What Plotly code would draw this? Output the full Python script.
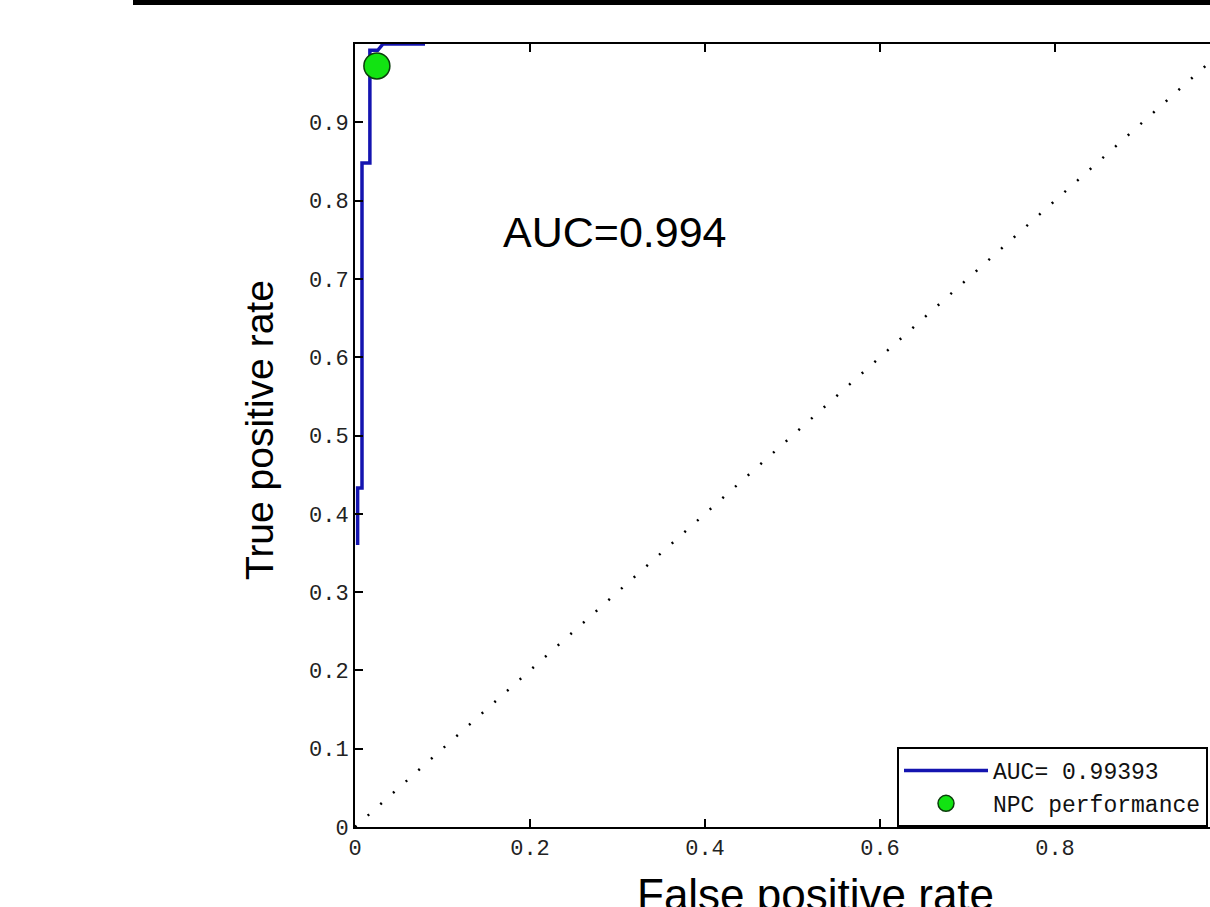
import plotly.graph_objects as go

# ROC curve
fpr = [0.003, 0.003, 0.008, 0.008, 0.017, 0.017, 0.026, 0.032, 0.080]
tpr = [0.360, 0.433, 0.433, 0.848, 0.848, 0.992, 0.992, 1.000, 1.000]

# chance diagonal
diag_x = [0.0, 1.0]
diag_y = [0.0, 1.0]

# operating point
npc_x = [0.025]
npc_y = [0.972]

auc_legend = "AUC= 0.99393"
npc_legend = "NPC performance"
auc_text = "AUC=0.994"

xtick_vals = [0, 0.2, 0.4, 0.6, 0.8]
xtick_text = ["0", "0.2", "0.4", "0.6", "0.8"]
ytick_vals = [0, 0.1, 0.2, 0.3, 0.4, 0.5, 0.6, 0.7, 0.8, 0.9]
ytick_text = ["0", "0.1", "0.2", "0.3", "0.4", "0.5", "0.6", "0.7", "0.8", "0.9"]

W, H = 1210, 907
ML, MR, MT, MB = 355, 0, 44, 80
PLOT_W = W - ML - MR
PLOT_H = H - MT - MB
UNIT_X = 875.0  # pixels per unit on x

fig = go.Figure()

fig.add_trace(go.Scatter(
    x=diag_x, y=diag_y, mode="lines",
    line=dict(color="black", width=2.5, dash="2px,15px"),
    showlegend=False, hoverinfo="skip"))

fig.add_trace(go.Scatter(
    x=fpr, y=tpr, mode="lines", name=auc_legend,
    line=dict(color="#1414b0", width=3.5)))

fig.add_trace(go.Scatter(
    x=npc_x, y=npc_y, mode="markers", name=npc_legend,
    marker=dict(color="#12e312", size=26, symbol="circle",
                line=dict(color="#0b3d0b", width=1.5))))

tick_font = dict(family="Liberation Mono", size=22, color="#222222")

fig.update_layout(
    width=W, height=H,
    margin=dict(l=ML, r=MR, t=MT, b=MB, pad=0),
    plot_bgcolor="white", paper_bgcolor="white",
    showlegend=True,
    legend=dict(x=(897 - ML) / PLOT_W, y=0, xanchor="left", yanchor="bottom",
                bordercolor="black", borderwidth=2, bgcolor="white",
                font=dict(family="Liberation Mono", size=23, color="#111111"),
                itemwidth=84, tracegroupgap=0),
    xaxis=dict(range=[0, PLOT_W / UNIT_X], tickmode="array",
               tickvals=xtick_vals, ticktext=xtick_text,
               showline=True, linecolor="black", linewidth=2, mirror="ticks",
               ticks="inside", ticklen=8, tickwidth=1.5, tickcolor="black",
               showgrid=False, zeroline=False, tickfont=tick_font),
    yaxis=dict(range=[0, 1], tickmode="array",
               tickvals=ytick_vals, ticktext=ytick_text,
               showline=True, linecolor="black", linewidth=2, mirror=False,
               ticks="inside", ticklen=8, tickwidth=1.5, tickcolor="black",
               showgrid=False, zeroline=False, tickfont=tick_font),
    annotations=[
        dict(x=0.297, y=0.760, xref="x", yref="y", text=auc_text, showarrow=False,
             font=dict(family="Liberation Sans", size=43, color="black")),
        dict(x=(259 - ML) / PLOT_W, y=(827 - 430) / PLOT_H, xref="paper", yref="paper",
             text="True positive rate", textangle=-90, showarrow=False,
             xanchor="center", yanchor="middle",
             font=dict(family="Liberation Sans", size=39, color="black")),
        dict(x=(815 - ML) / PLOT_W, y=(827 - 868) / PLOT_H, xref="paper", yref="paper",
             text="False positive rate", showarrow=False,
             xanchor="center", yanchor="top",
             font=dict(family="Liberation Sans", size=44, color="black")),
    ],
    shapes=[
        dict(type="rect", xref="paper", yref="paper",
             x0=(133 - ML) / PLOT_W, x1=1.0,
             y0=(827 - 5) / PLOT_H, y1=(827 - 0) / PLOT_H,
             fillcolor="black", line=dict(width=0), layer="above"),
    ],
)

fig.write_html("out.html")
